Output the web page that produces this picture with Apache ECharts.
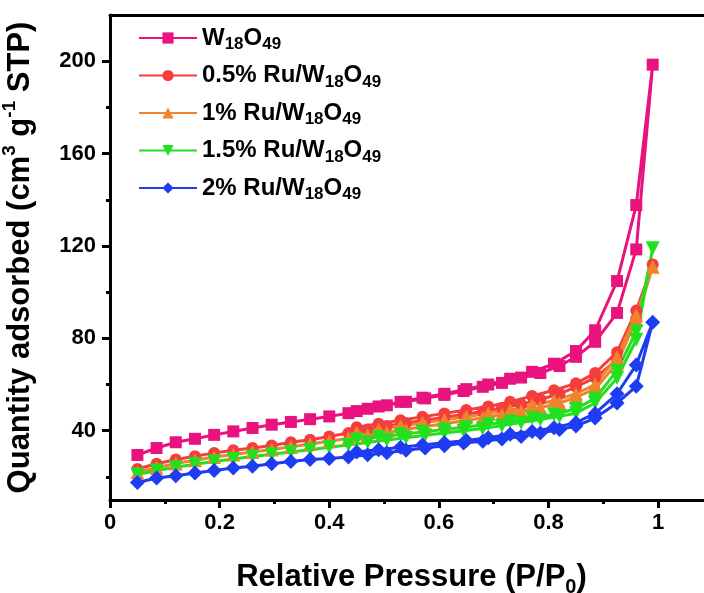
<!DOCTYPE html>
<html>
<head>
	<meta charset="utf-8">
	<script src="https://cdn.jsdelivr.net/npm/echarts@6/dist/echarts.min.js"></script>
</head>
<body style="margin:0;">
	<div id="main" style="width:704px;height:593px;"></div>
	<script type="text/javascript">
        // relative pressure of adsorption / desorption points
        var pAds = [0.05,0.085,0.12,0.155,0.19,0.225,0.26,0.295,0.33,0.365,0.40,0.435,0.47,0.505,0.54,0.575,0.61,0.645,0.68,0.715,0.75,0.785,0.82,0.85,0.885,0.925,0.96,0.99];
        var pDes = [0.96,0.925,0.885,0.85,0.81,0.77,0.73,0.69,0.65,0.61,0.57,0.53,0.49,0.45];

        // quantity adsorbed (cm3/g STP)
        var w18Ads = [29.5,32.5,35,36.5,38.2,39.7,41.2,42.6,43.8,45,46.2,47.6,49.5,51,52.5,54,55.5,57.2,59,60.7,63,65,68,72,78.5,91,118.5,198.5];
        var w18Des = [137.7,104.8,83.5,74.5,69,65.5,62.5,60,58,56,54.3,52.5,50.5,48.5];
        var ru05Ads = [23.4,25.7,27.5,28.9,30.4,31.5,32.5,33.6,35,36.1,37.5,39,40.5,42,43.3,44.5,45.8,47,48.3,49.8,51.5,53.5,56,59,63,70.7,88.5,112];
        var ru05Des = [92,74,65,60.5,57.5,55,52.5,50.5,49,47.5,46,44.5,43,41.5];
        var ru1Ads = [22,24,25.8,27.2,28.6,29.7,30.8,31.9,33,34.2,35.4,36.7,38,39.3,40.6,41.8,43,44.3,45.6,47,48.5,50,52,54.5,58,69.3,88,111];
        var ru1Des = [90,72,60,56,53,51,49,47.5,46,44.7,43.4,42,40.6,39.2];
        var ru15Ads = [21,22.8,24.2,25.5,26.7,27.8,28.8,29.8,30.8,31.8,32.8,33.8,34.9,36,37,38,39,40,41,42.2,43.5,44.8,46.2,47.6,52,62.8,79.4,119];
        var ru15Des = [83,66,54,49.5,47,45.5,44,42.8,41.6,40.5,39.5,38.4,37.3,36.2];
        var ru2Ads = [17.6,19.5,20.5,21.7,22.8,23.9,24.6,25.7,26.7,27.5,28,28.6,29.6,30.5,31.5,32.5,33.5,34.7,35.4,36.4,37.5,39,40.5,42,45.5,52,59.2,87];
        var ru2Des = [68.5,56,47.5,43.5,41.3,39.7,38.5,37,35.8,34.8,33.8,32.8,31.8,30.8];

        var names = ['W18O49', '0.5% Ru/W18O49', '1% Ru/W18O49', '1.5% Ru/W18O49', '2% Ru/W18O49'];
        var xTicks = [0, 0.2, 0.4, 0.6, 0.8, 1];
        var xMinor = [0.1, 0.3, 0.5, 0.7, 0.9];
        var yTicks = [40, 80, 120, 160, 200];
        var yMinor = [20, 60, 100, 140, 180];

        var colors = ['#E8137F', '#F53D3D', '#F0842C', '#20E020', '#1E3CF2'];
        var symbols = ['rect', 'circle', 'triangle', 'triangle', 'diamond'];
        var rotates = [0, 0, 0, 180, 0];
        var sizes = [12, 12, 14, 14, 15];

        function loop(ads, des) {
            var d = [];
            for (var i = 0; i < pAds.length; i++) d.push([pAds[i], ads[i]]);
            for (var j = 0; j < pDes.length; j++) d.push([pDes[j], des[j]]);
            return d;
        }
        var loops = [loop(w18Ads, w18Des), loop(ru05Ads, ru05Des), loop(ru1Ads, ru1Des), loop(ru15Ads, ru15Des), loop(ru2Ads, ru2Des)];

        var font = 'Liberation Sans, Arial, sans-serif';
        var black = '#000';

        var series = names.map(function (n, i) {
            return {
                name: n,
                type: 'line',
                data: loops[i],
                symbol: symbols[i],
                symbolRotate: rotates[i],
                symbolSize: sizes[i],
                color: colors[i],
                lineStyle: {width: 3, color: colors[i]},
                itemStyle: {color: colors[i]}
            };
        });

        var myChart = echarts.init(document.getElementById('main'));
        var option = {
            animation: false,
            grid: {left: 110, top: 15, right: -9, bottom: 93, outerBoundsMode: 'none', containLabel: false},
            legend: {
                orient: 'vertical',
                left: 133,
                top: 21,
                itemWidth: 58,
                itemHeight: 14,
                itemGap: 10.5,
                data: names,
                formatter: function (name) {
                    return name.replace(/(.*?)W18O49/, function (m, pre) {
                        return (pre ? '{b|' + pre + '}' : '') + '{b|W}{s|18}{b|O}{s|49}';
                    });
                },
                textStyle: {
                    rich: {
                        b: {fontSize: 24, fontWeight: 'bold', fontFamily: font, color: black, lineHeight: 30},
                        s: {fontSize: 17, fontWeight: 'bold', fontFamily: font, color: black, lineHeight: 30, verticalAlign: 'bottom'}
                    }
                }
            },
            xAxis: [{
                type: 'value',
                position: 'bottom',
                min: 0,
                max: 1.1,
                interval: 0.2,
                splitLine: {show: false},
                axisLine: {lineStyle: {color: black, width: 3}},
                axisTick: {inside: false, length: 8, lineStyle: {width: 3, color: black}, customValues: xTicks},
                axisLabel: {customValues: xTicks, margin: 12, fontSize: 22, fontWeight: 'bold', fontFamily: font, color: black},
                name: '{b|Relative Pressure (P/P}{s|0}{b|)}',
                nameLocation: 'middle',
                nameGap: 57,
                nameTextStyle: {
                    rich: {
                        b: {fontSize: 31, fontWeight: 'bold', fontFamily: font, color: black, lineHeight: 40},
                        s: {fontSize: 20, fontWeight: 'bold', fontFamily: font, color: black, lineHeight: 40, verticalAlign: 'bottom'}
                    }
                }
            }, {
                type: 'value',
                position: 'bottom',
                min: 0,
                max: 1.1,
                splitLine: {show: false},
                axisLine: {show: false},
                axisTick: {length: 4, lineStyle: {width: 3, color: black}, customValues: xMinor},
                axisLabel: {show: false}
            }, {
                type: 'value',
                position: 'top',
                min: 0,
                max: 1.1,
                splitLine: {show: false},
                axisLine: {lineStyle: {color: black, width: 3}},
                axisTick: {show: false},
                axisLabel: {show: false}
            }],
            yAxis: [{
                type: 'value',
                min: 10,
                max: 220,
                splitLine: {show: false},
                axisLine: {show: true, lineStyle: {color: black, width: 3}},
                axisTick: {show: true, length: 8, lineStyle: {width: 3, color: black}, customValues: yTicks},
                axisLabel: {customValues: yTicks, margin: 14, fontSize: 22, fontWeight: 'bold', fontFamily: font, color: black},
                name: '{b|Quantity adsorbed (cm}{p|3}{b| g}{p|-1}{b| STP)}',
                nameLocation: 'middle',
                nameGap: 70,
                nameTextStyle: {
                    rich: {
                        b: {fontSize: 31, fontWeight: 'bold', fontFamily: font, color: black, lineHeight: 40},
                        p: {fontSize: 19, fontWeight: 'bold', fontFamily: font, color: black, lineHeight: 40, verticalAlign: 'top'}
                    }
                }
            }, {
                type: 'value',
                position: 'left',
                min: 10,
                max: 220,
                splitLine: {show: false},
                axisLine: {show: false},
                axisTick: {show: true, length: 4, lineStyle: {width: 3, color: black}, customValues: yMinor},
                axisLabel: {show: false}
            }],
            series: series
        };
        myChart.setOption(option);
    </script>
</body>
</html>
